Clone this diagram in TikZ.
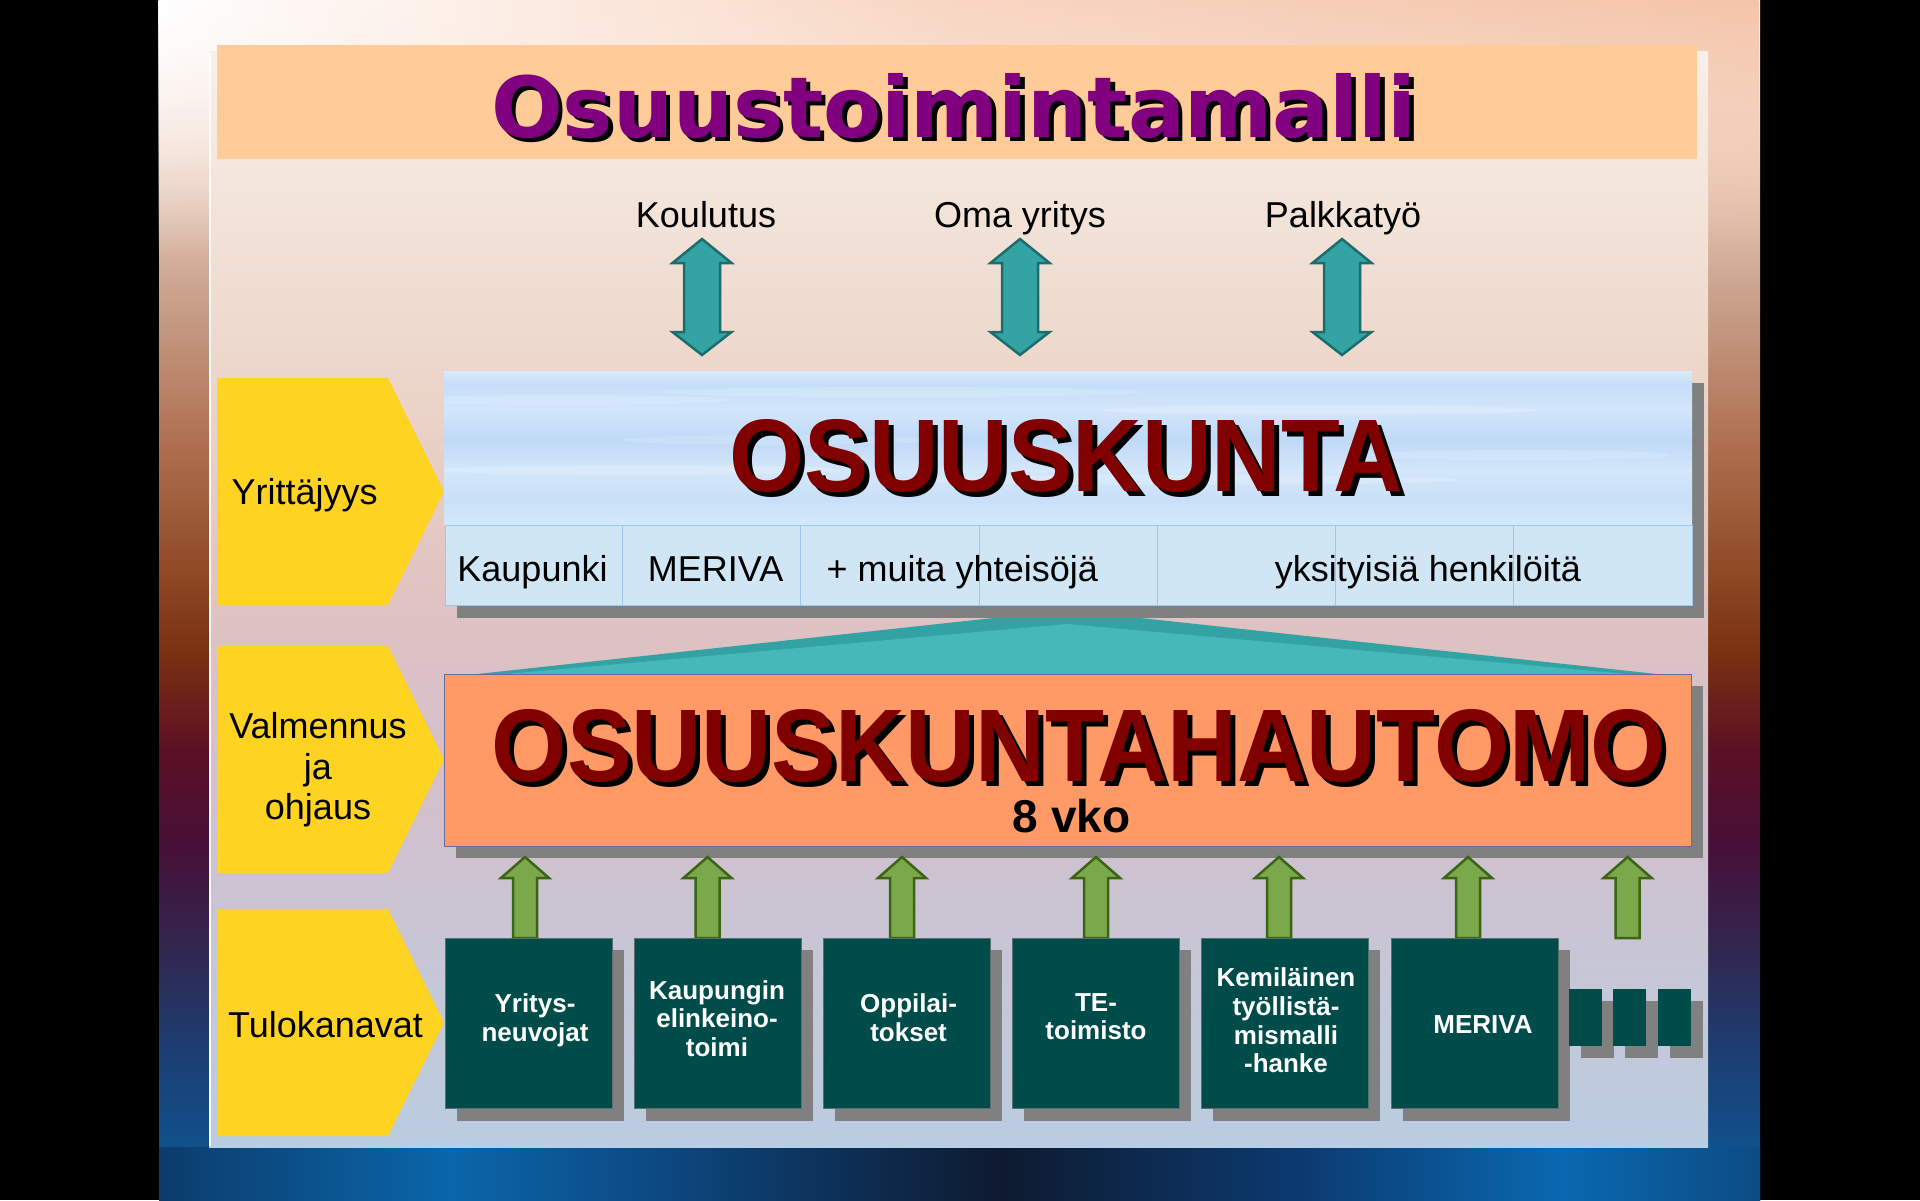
\documentclass[tikz,border=0pt]{standalone}
\usepackage{fontspec}
\setmainfont{Liberation Sans}
\newfontfamily\heavy{DejaVu Sans}
\usepackage{graphicx}
\usetikzlibrary{calc,fadings}

\definecolor{bgA}{HTML}{0A5A98}
\definecolor{bgB}{HTML}{1C3E72}
\definecolor{bgC}{HTML}{302850}
\definecolor{bgD}{HTML}{461038}
\definecolor{bgE}{HTML}{5C1024}
\definecolor{bgF}{HTML}{7A3210}
\definecolor{bgG}{HTML}{94502C}
\definecolor{bgH}{HTML}{AD6E4E}
\definecolor{bgI}{HTML}{C9A08A}
\definecolor{bgJ}{HTML}{EFD6C6}
\definecolor{bgK}{HTML}{FFF6F0}
\pgfdeclareverticalshading{slidebg}{100bp}{color(0bp)=(bgA); color(25bp)=(bgA); color(31.25bp)=(bgB); color(35.4bp)=(bgC); color(39.6bp)=(bgD); color(43.75bp)=(bgE); color(47.9bp)=(bgF); color(52.1bp)=(bgG); color(56.25bp)=(bgH); color(62.5bp)=(bgI); color(68.75bp)=(bgJ); color(75bp)=(bgK); color(100bp)=(bgK)}

\definecolor{btA}{HTML}{0C3C6C}
\definecolor{btB}{HTML}{0A66AA}
\definecolor{btC}{HTML}{0C4A84}
\definecolor{btD}{HTML}{0E1A30}
\definecolor{btE}{HTML}{0C3A70}
\definecolor{btF}{HTML}{0A68B0}
\definecolor{btG}{HTML}{0C4C84}
\pgfdeclarehorizontalshading{bottombg}{100bp}{color(0bp)=(btA); color(25bp)=(btA); color(34.1bp)=(btB); color(40.3bp)=(btC); color(51.3bp)=(btD); color(60.6bp)=(btE); color(68.75bp)=(btF); color(75bp)=(btG); color(100bp)=(btG)}

\definecolor{tpA}{HTML}{FFFFFF}
\definecolor{tpB}{HTML}{F8D6C2}
\definecolor{tpC}{HTML}{F4C4A8}
\pgfdeclarehorizontalshading{topbg}{100bp}{color(0bp)=(tpA); color(25bp)=(tpA); color(50bp)=(tpB); color(75bp)=(tpC); color(100bp)=(tpC)}

\definecolor{pnA}{HTML}{BACCE0}
\definecolor{pnB}{HTML}{C4C8D8}
\definecolor{pnC}{HTML}{D2C0CC}
\definecolor{pnD}{HTML}{E0C2C2}
\definecolor{pnE}{HTML}{EBD4C8}
\definecolor{pnF}{HTML}{F3E4DA}
\definecolor{pnG}{HTML}{F9F0EA}
\pgfdeclareverticalshading{panelbg}{100bp}{color(0bp)=(pnA); color(25bp)=(pnA); color(31.7bp)=(pnB); color(40.8bp)=(pnC); color(49.95bp)=(pnD); color(59.1bp)=(pnE); color(68.2bp)=(pnF); color(75bp)=(pnG); color(100bp)=(pnG)}

\definecolor{skA}{HTML}{D6E8FA}
\definecolor{skB}{HTML}{C8E0F8}
\definecolor{skC}{HTML}{D4E7FB}
\definecolor{skD}{HTML}{BFD9F7}
\definecolor{skE}{HTML}{D2E6FB}
\definecolor{skF}{HTML}{C6DEF8}
\definecolor{skG}{HTML}{D8EAFC}
\pgfdeclareverticalshading{skybg}{100bp}{color(0bp)=(skA); color(25bp)=(skA); color(33.1bp)=(skB); color(42.9bp)=(skC); color(52.6bp)=(skD); color(62.3bp)=(skE); color(70.5bp)=(skF); color(75bp)=(skG); color(100bp)=(skG)}

\definecolor{titlebar}{HTML}{FFCC99}
\definecolor{purpletxt}{HTML}{800080}
\definecolor{redtxt}{HTML}{800000}
\definecolor{yellowtag}{HTML}{FFD322}
\definecolor{tealfill}{HTML}{33A3A3}
\definecolor{tealline}{HTML}{1D6D6D}
\definecolor{roofdark}{HTML}{32A2A2}
\definecolor{rooflight}{HTML}{46B8B8}
\definecolor{hautomo}{HTML}{FF9966}
\definecolor{greenfill}{HTML}{7BA84A}
\definecolor{greenline}{HTML}{3C6414}
\definecolor{darkbox}{HTML}{004C4A}
\definecolor{shadowgray}{HTML}{808080}
\definecolor{cellfill}{HTML}{D0E6F4}
\definecolor{cellline}{HTML}{9CC8F0}

\begin{document}
\begin{tikzpicture}[x=1pt,y=-1pt,
  shadowbox/.style={fill=shadowgray, draw=none},
  tealbox/.style={fill=darkbox, draw=shadowgray!70!darkbox, line width=0.6pt, anchor=north west, minimum width=167pt, minimum height=170pt, inner sep=0pt},
  smallbox/.style={fill=darkbox, draw=none, anchor=north west, minimum width=33pt, minimum height=57pt, inner sep=0pt},
  tagshape/.style={fill=yellowtag, draw=none},
  dblarrow/.style={fill=tealfill, draw=tealline, line width=2.5pt, line join=miter},
  greenarrow/.style={fill=greenfill, draw=greenline, line width=2.5pt, line join=miter},
  labeltext/.style={font=\fontsize{36}{43}\selectfont, text=black, inner sep=0pt},
  whitetext/.style={font=\fontsize{26}{28.7}\selectfont\bfseries, text=white, inner sep=0pt, anchor=base}
]
\useasboundingbox (0,0) rectangle (1920,1200);
% black background and slide
\fill[black] (0,0) rectangle (1920,1200);
\shade[shading=slidebg] (159,0) rectangle (1760,1200);
\shade[shading=bottombg] (159,1147) rectangle (1760,1200);
\shade[shading=topbg, path fading=south] (159,0) rectangle (1760,260);
% inner panel
\shade[shading=panelbg] (209,51) rectangle (1708,1147);
\draw[white!80!pnG, line width=1.5pt] (209.75,52) -- (209.75,1146);
\draw[cellline!80!white, line width=1.5pt] (209,1146.5) -- (1708,1146.5);
% title bar
\node[fill=titlebar, draw=none, anchor=north west, minimum width=1480pt, minimum height=114pt, inner sep=0pt] (titlebar) at (217,45) {};
\node[anchor=base west, inner sep=0pt, text=black] at (495.5,141.5) {\resizebox{925pt}{64pt}{\heavy\bfseries Osuustoimintamalli}};
\node[anchor=base west, inner sep=0pt, text=purpletxt] (title) at (491,137) {\resizebox{925pt}{64pt}{\heavy\bfseries Osuustoimintamalli}};
% top labels
\node[labeltext, anchor=base] (koulutus) at (706,227) {Koulutus};
\node[labeltext, anchor=base] (oma) at (1020,227) {Oma yritys};
\node[labeltext, anchor=base] (palkka) at (1343,227) {Palkkatyö};
% double arrows
\foreach \cx/\nm in {702/da1,1020/da2,1342/da3}{
  \coordinate (\nm) at (\cx,297);
  \draw[dblarrow, shift={(\nm)}] (-18,-34) -- (-29.5,-34) -- (0,-58) -- (29.5,-34) -- (18,-34) -- (18,35) -- (29.5,35) -- (0,58) -- (-29.5,35) -- (-18,35) -- cycle;
}
% yellow tags
\foreach \ty/\by/\nm in {378/605/tag1, 646/873/tag2, 909/1136/tag3}{
  \fill[tagshape] (217,\ty) -- (388,\ty) -- (444,{(\ty+\by)/2}) -- (388,\by) -- (217,\by) -- cycle;
}
\node[labeltext, anchor=base west] (yrit) at (231.5,504.5) {Yrittäjyys};
\node[labeltext, anchor=base, font=\fontsize{36}{40.5}\selectfont] (valm) at (318,738.7) {\begin{tabular}[t]{@{}c@{}}Valmennus\\ja\\ohjaus\end{tabular}};
\node[labeltext, anchor=base west] (tulo) at (228,1037.6) {Tulokanavat};
% roof
\fill[roofdark, rounded corners=3pt] (468,675) -- (1067,610) -- (1666,675) -- cycle;
\fill[rooflight, rounded corners=2pt] (484,676) -- (1067,624) -- (1650,676) -- cycle;
% osuuskunta
\fill[shadowgray] (456.5,383) rectangle (1704,618);
\shade[shading=skybg] (444.5,371) rectangle (1692,525);
\begin{scope}
  \clip (444.5,371) rectangle (1692,525);
  \foreach \sx/\sy/\sw in {560/400/170, 900/392/240, 1320/410/220, 640/470/200, 1180/480/280, 1520/455/150, 780/440/160}{
    \fill[white, opacity=0.16] (\sx,\sy) ellipse ({\sw pt} and 5pt);
  }
\end{scope}
\node[fill=cellfill, draw=cellline, line width=1pt, anchor=north west, minimum width=1247.5pt, minimum height=80pt, inner sep=0pt] (cells) at (444.5,525) {};
\foreach \k in {1,...,6}{
  \draw[cellline, line width=1pt] ({444.5+178.21*\k},525) -- ({444.5+178.21*\k},605);
}
\node[anchor=base west, inner sep=0pt, text=black] at (734.6,496.7) {\resizebox{673pt}{72pt}{\bfseries OSUUSKUNTA}};
\node[anchor=base west, inner sep=0pt, text=redtxt] (osk) at (729.6,491.7) {\resizebox{673pt}{72pt}{\bfseries OSUUSKUNTA}};
\node[labeltext, anchor=base] (c1) at (532.5,581.7) {Kaupunki};
\node[labeltext, anchor=base] (c2) at (715.6,581.7) {MERIVA};
\node[labeltext, anchor=base west] (c3) at (826.5,581.7) {+ muita yhteisöjä};
\node[labeltext, anchor=base] (c4) at (1428,581.7) {yksityisiä henkilöitä};
% hautomo
\fill[shadowgray] (456,686) rectangle (1703,858);
\node[fill=hautomo, draw=shadowgray!60!blue!40!gray, line width=1pt, anchor=north west, minimum width=1247pt, minimum height=172pt, inner sep=0pt] (haut) at (444,674) {};
\node[anchor=base west, inner sep=0pt, text=black] at (496.7,786.7) {\resizebox{1173pt}{72pt}{\bfseries OSUUSKUNTAHAUTOMO}};
\node[anchor=base west, inner sep=0pt, text=redtxt] (hautxt) at (491.7,781.7) {\resizebox{1173pt}{72pt}{\bfseries OSUUSKUNTAHAUTOMO}};
\node[anchor=base, inner sep=0pt, font=\fontsize{46}{50}\selectfont\bfseries] (vko) at (1071.5,832.7) {8 vko};
% green arrows
\foreach \cx in {525,707.5,902,1096,1279,1468,1627.6}{
  \draw[greenarrow, shift={(\cx,0)}] (-12,938) -- (-12,878) -- (-24,878) -- (0,857) -- (24,878) -- (12,878) -- (12,938) -- cycle;
}
% bottom boxes
\foreach \i in {0,...,5}{
  \fill[shadowgray] ({457+189.1*\i},950) rectangle ({457+189.1*\i+167},1120.5);
  \node[tealbox] (b\i) at ({445+189.1*\i},938) {};
}
\foreach \sx/\nm in {1569/s1,1613/s2,1657.6/s3}{
  \fill[shadowgray] (\sx+12,1001) rectangle (\sx+45,1058);
  \node[smallbox] (\nm) at (\sx,989) {};
}
\node[whitetext] (t0) at (535,1012.7) {\begin{tabular}[t]{@{}c@{}}Yritys-\\neuvojat\end{tabular}};
\node[whitetext] (t1) at (717,999) {\begin{tabular}[t]{@{}c@{}}Kaupungin\\elinkeino-\\toimi\end{tabular}};
\node[whitetext] (t2) at (908.6,1012.7) {\begin{tabular}[t]{@{}c@{}}Oppilai-\\tokset\end{tabular}};
\node[whitetext] (t3) at (1096,1011) {\begin{tabular}[t]{@{}c@{}}TE-\\toimisto\end{tabular}};
\node[whitetext] (t4) at (1286,986.7) {\begin{tabular}[t]{@{}c@{}}Kemiläinen\\työllistä-\\mismalli\\-hanke\end{tabular}};
\node[whitetext] (t5) at (1483,1033) {MERIVA};
\end{tikzpicture}
\end{document}
